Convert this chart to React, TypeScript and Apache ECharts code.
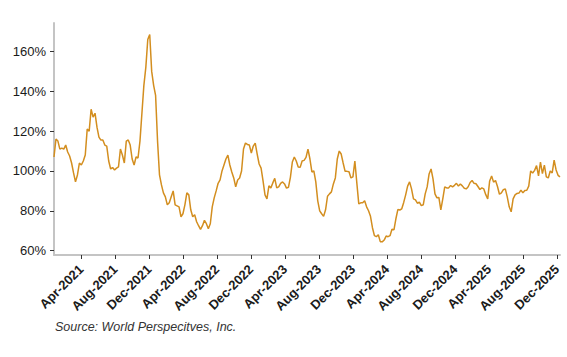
import React, { useEffect, useRef } from "react";
import * as echarts from "echarts";

// Weekly price index (%), starting 2020-12-25, one value per week
const values2021 = [
  107, 116, 115, 111, 111.5, 111, 113, 109.5, 107.5, 104, 99, 94.5, 98, 104, 103, 105, 108, 121, 120, 131,
  127, 129, 122, 117, 115.5, 115.6, 113, 112.5, 105, 101, 101.7, 100.5, 101.4, 102, 111, 108, 104, 115, 115.6, 113,
  106, 103, 107, 106.5, 115, 129, 143, 152, 166, 168.5, 150, 143, 138, 115,
];
const values2022 = [
  98, 93, 89, 87, 83, 84, 87, 90, 83, 82.5, 82, 77, 78.5, 83, 89, 88, 80.5, 77, 78, 74.5,
  72.5, 70.7, 72.5, 75.2, 73.5, 71, 73.5, 82, 86.5, 90, 93.8, 95.5, 100, 103, 106, 108, 103, 99.5, 96.5, 92,
  95.5, 96.5, 100, 111, 114, 113.3, 113, 109, 112.5, 114, 108.5, 103.5,
];
const values2023 = [
  101.4, 95, 88, 86, 92.5, 91.5, 94, 96.3, 91.5, 92, 93.8, 94.5, 93.5, 91.4, 91.8, 96.8, 104.5, 107, 105, 102,
  101.8, 105, 105.3, 106.8, 111, 106, 99.5, 100, 94.5, 85, 80, 78.5, 77.2, 80.5, 87.3, 88.5, 89.5, 93.5, 96.5, 106,
  110, 108.5, 104, 99.8, 99.8, 99.6, 96.5, 97, 105, 94, 83.5, 84,
];
const values2024 = [
  84, 85, 82, 80, 77.2, 71.5, 67.5, 67, 68, 64.5, 64.4, 65.3, 67.3, 67, 67.5, 70.8, 70.4, 76, 80.6, 80.4,
  81, 84.2, 88, 92.4, 94.5, 91, 86, 85.5, 83.8, 84.3, 82.6, 83, 88.5, 92, 98.5, 101, 96, 88.5, 86.5, 86.7,
  80.5, 86, 92, 91.5, 91.5, 92.7, 92, 92.8, 93.8, 92.4, 93.5, 92.5,
];
const values2025 = [
  91.3, 91, 92.1, 94.2, 95.2, 93.8, 93.6, 92.2, 90.7, 91.5, 91, 88.1, 86, 95, 97.5, 94.4, 95.2, 92.2, 88.3, 89,
  90.6, 91, 87, 82, 79.5, 86, 88, 88.7, 88.9, 90.4, 89, 90.2, 90.3, 92.4, 100, 99, 100.3, 102.7, 97.5, 104.5,
  98.7, 102.9, 97, 96.5, 100, 99, 105.4, 100.5, 97.8, 97,
];

const yTickValues = [60, 80, 100, 120, 140, 160];
const xTickLabels = [
  "Apr-2021", "Aug-2021", "Dec-2021", "Apr-2022", "Aug-2022", "Dec-2022", "Apr-2023", "Aug-2023",
  "Dec-2023", "Apr-2024", "Aug-2024", "Dec-2024", "Apr-2025", "Aug-2025", "Dec-2025",
];
const MONTHS = ["Jan", "Feb", "Mar", "Apr", "May", "Jun", "Jul", "Aug", "Sep", "Oct", "Nov", "Dec"];

function labelToTime(label: string): number {
  const [m, y] = label.split("-");
  return Date.UTC(Number(y), MONTHS.indexOf(m), 1);
}

export default function App() {
  const ref = useRef<HTMLDivElement>(null);

  useEffect(() => {
    if (!ref.current) return;
    const chart = echarts.init(ref.current, undefined, { renderer: "svg" });
    const allValues = [...values2021, ...values2022, ...values2023, ...values2024, ...values2025];
    const start = Date.UTC(2020, 11, 25);
    const week = 7 * 86400000;
    const data = allValues.map((v, i) => [start + i * week, v]);
    const xTicks = xTickLabels.map(labelToTime);

    chart.setOption({
      animation: false,
      grid: { left: 54, right: 7, top: 23, bottom: 102, containLabel: false },
      xAxis: {
        type: "value",
        min: start,
        max: start + (allValues.length - 1) * week,
        splitLine: { show: false },
        axisLine: { show: true, lineStyle: { color: "#c4c4c4", width: 2 } },
        axisTick: {
          show: true,
          length: 4,
          customValues: xTicks,
          lineStyle: { color: "#333", width: 1 },
        },
        axisLabel: {
          customValues: xTicks,
          rotate: 45,
          margin: 12,
          color: "#1a1a1a",
          fontSize: 13,
          fontWeight: "bold",
          fontFamily: "Liberation Sans, Arial, sans-serif",
          formatter: (val: number) => {
            const d = new Date(val);
            return MONTHS[d.getUTCMonth()] + "-" + d.getUTCFullYear();
          },
        },
      },
      yAxis: {
        type: "value",
        min: 57.8,
        max: 174.3,
        splitLine: { show: false },
        axisLine: { show: true, lineStyle: { color: "#c4c4c4", width: 2 } },
        axisTick: {
          show: true,
          length: 4,
          customValues: yTickValues,
          lineStyle: { color: "#333", width: 1 },
        },
        axisLabel: {
          customValues: yTickValues,
          margin: 8,
          color: "#1a1a1a",
          fontSize: 13,
          fontFamily: "Liberation Sans, Arial, sans-serif",
          formatter: (v: number) => Math.round(v) + "%",
        },
      },
      series: [
        {
          type: "line",
          data,
          showSymbol: false,
          lineStyle: { color: "#D38E1F", width: 1.5 },
          itemStyle: { color: "#D38E1F" },
        },
      ],
      graphic: [
        {
          type: "text",
          left: 55,
          top: 320,
          style: {
            text: "Source: World Perspecitves, Inc.",
            fontSize: 12.5,
            fontStyle: "italic",
            fontFamily: "Liberation Sans, Arial, sans-serif",
            fill: "#333",
          },
        },
      ],
    });
    return () => chart.dispose();
  }, []);

  return <div ref={ref} style={{ width: 567, height: 357, position: "absolute", left: 0, top: 0 }} />;
}
